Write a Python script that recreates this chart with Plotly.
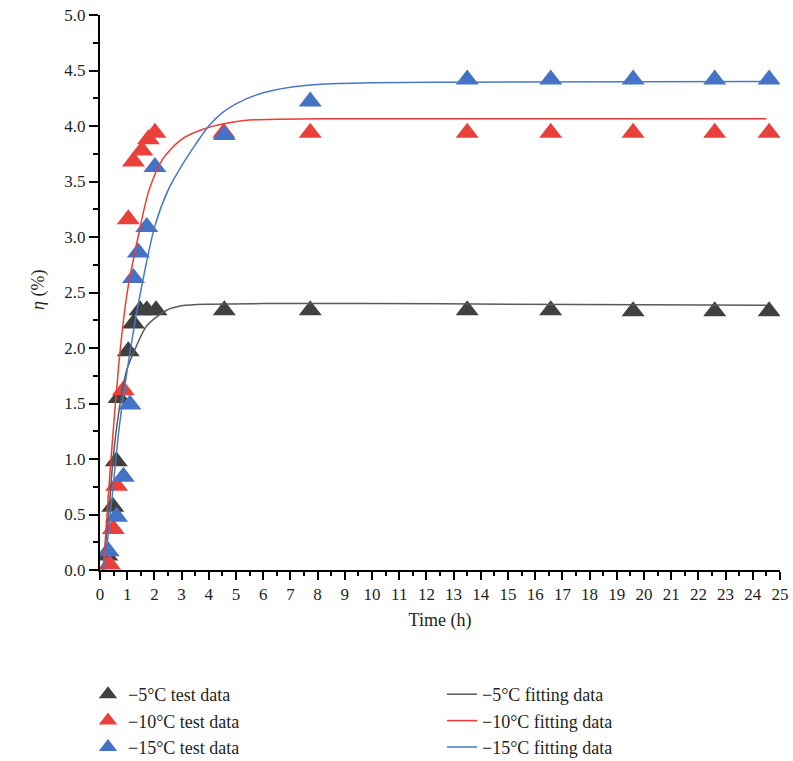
import plotly.graph_objects as go

# Measured test data: time (h) and eta (%)
t_5 = [0.25, 0.47, 0.6, 0.7, 1.04, 1.23, 1.47, 1.72, 2.06, 4.57, 7.73, 13.5, 16.57, 19.6, 22.6, 24.6]
eta_5 = [0.13, 0.57, 0.98, 1.55, 1.97, 2.22, 2.34, 2.34, 2.34, 2.34, 2.34, 2.34, 2.34, 2.33, 2.33, 2.33]

t_10 = [0.35, 0.49, 0.61, 0.86, 1.04, 1.23, 1.54, 1.78, 2.02, 4.55, 7.73, 13.5, 16.57, 19.6, 22.6, 24.6]
eta_10 = [0.05, 0.37, 0.76, 1.62, 3.16, 3.68, 3.78, 3.88, 3.94, 3.94, 3.94, 3.94, 3.94, 3.94, 3.94, 3.94]

t_15 = [0.3, 0.61, 0.86, 1.1, 1.23, 1.41, 1.72, 2.02, 4.57, 7.73, 13.5, 16.57, 19.6, 22.6, 24.6]
eta_15 = [0.17, 0.48, 0.84, 1.49, 2.63, 2.86, 3.09, 3.63, 3.92, 4.22, 4.42, 4.42, 4.42, 4.42, 4.42]

# Fitted curves
fit_t_5 = [0.1, 0.3, 0.5, 0.74, 0.98, 1.29, 1.72, 2.45, 3.0, 4.0, 6.0, 10.0, 15.0, 20.0, 24.5]
fit_eta_5 = [0.0, 0.45, 1.05, 1.5, 1.8, 1.99, 2.2, 2.34, 2.38, 2.395, 2.40, 2.40, 2.395, 2.39, 2.385]

fit_t_10 = [0.12, 0.3, 0.5, 0.75, 1.0, 1.4, 1.8, 2.3, 3.0, 3.9, 5.3, 8.0, 12.0, 24.5]
fit_eta_10 = [0.0, 0.65, 1.3, 2.0, 2.5, 3.0, 3.42, 3.7, 3.88, 3.98, 4.05, 4.065, 4.065, 4.065]

fit_t_15 = [0.16, 0.4, 0.7, 1.0, 1.41, 2.02, 2.5, 3.0, 3.5, 4.0, 4.5, 5.0, 6.0, 7.0, 8.0, 10.0, 13.0, 24.5]
fit_eta_15 = [0.0, 0.55, 1.27, 1.8, 2.4, 3.1, 3.42, 3.64, 3.83, 4.0, 4.12, 4.2, 4.3, 4.35, 4.375, 4.39, 4.395, 4.40]

x_ticks = list(range(0, 26))
y_ticks = [0.0, 0.5, 1.0, 1.5, 2.0, 2.5, 3.0, 3.5, 4.0, 4.5, 5.0]

GRAY_M, RED_M, BLUE_M = "#404040", "#e8413b", "#4472c4"
GRAY_L, RED_L, BLUE_L = "#5a5a5a", "#ee3b33", "#4a78c8"
FONT = "Liberation Serif, Times New Roman, serif"
TXT = "#231f20"

fig = go.Figure()

series = [
    ("−5°C", t_5, eta_5, fit_t_5, fit_eta_5, GRAY_M, GRAY_L),
    ("−10°C", t_10, eta_10, fit_t_10, fit_eta_10, RED_M, RED_L),
    ("−15°C", t_15, eta_15, fit_t_15, fit_eta_15, BLUE_M, BLUE_L),
]

for name, tx, ty, fx, fy, mc, lc in series:
    fig.add_trace(go.Scatter(
        x=tx, y=ty, mode="markers", name=f"{name} test data",
        marker=dict(symbol="triangle-up", size=20, color=mc, line=dict(width=0)),
        legend="legend",
    ))

for name, tx, ty, fx, fy, mc, lc in series:
    fig.add_trace(go.Scatter(
        x=fx, y=fy, mode="lines", name=f"{name} fitting data",
        line=dict(color=lc, width=1.5, shape="spline", smoothing=0.8),
        legend="legend2",
    ))

axis_common = dict(
    showgrid=False, zeroline=False, showline=True, linecolor="black", linewidth=2,
    ticks="outside", tickcolor="black", tickwidth=2,
    tickfont=dict(family=FONT, size=17, color=TXT),
)

fig.update_xaxes(
    range=[0, 25], tickvals=x_ticks, ticktext=[str(v) for v in x_ticks], ticklen=8,
    minor=dict(dtick=0.5, ticks="outside", ticklen=4, tickwidth=2, tickcolor="black"),
    title=dict(text="Time (h)", font=dict(family=FONT, size=18, color=TXT), standoff=10),
    **axis_common,
)
fig.update_yaxes(
    range=[0, 5], tickvals=y_ticks, ticktext=[f"{v:.1f}" for v in y_ticks], ticklen=9,
    minor=dict(dtick=0.25, ticks="outside", ticklen=5, tickwidth=2, tickcolor="black"),
    **axis_common,
)

# y-axis title placed as a rotated annotation
fig.add_annotation(
    text="<i>η</i> (%)", xref="paper", yref="paper",
    x=(38 - 100) / 680, y=(570 - 290) / 555, xanchor="center", yanchor="middle",
    textangle=-90, showarrow=False, font=dict(family=FONT, size=18, color=TXT),
)

legend_common = dict(
    orientation="v", xref="container", yref="container",
    xanchor="left", yanchor="top", y=1 - 676 / 761,
    font=dict(family=FONT, size=18, color=TXT),
    itemsizing="trace", tracegroupgap=0, bgcolor="rgba(0,0,0,0)",
)

fig.update_layout(
    width=793, height=761,
    margin=dict(l=100, r=13, t=15, b=191, autoexpand=False),
    plot_bgcolor="white", paper_bgcolor="white",
    font=dict(family=FONT, color=TXT),
    legend=dict(x=88 / 793, **legend_common),
    legend2=dict(x=442 / 793, **legend_common),
)

fig.write_html("out.html")
